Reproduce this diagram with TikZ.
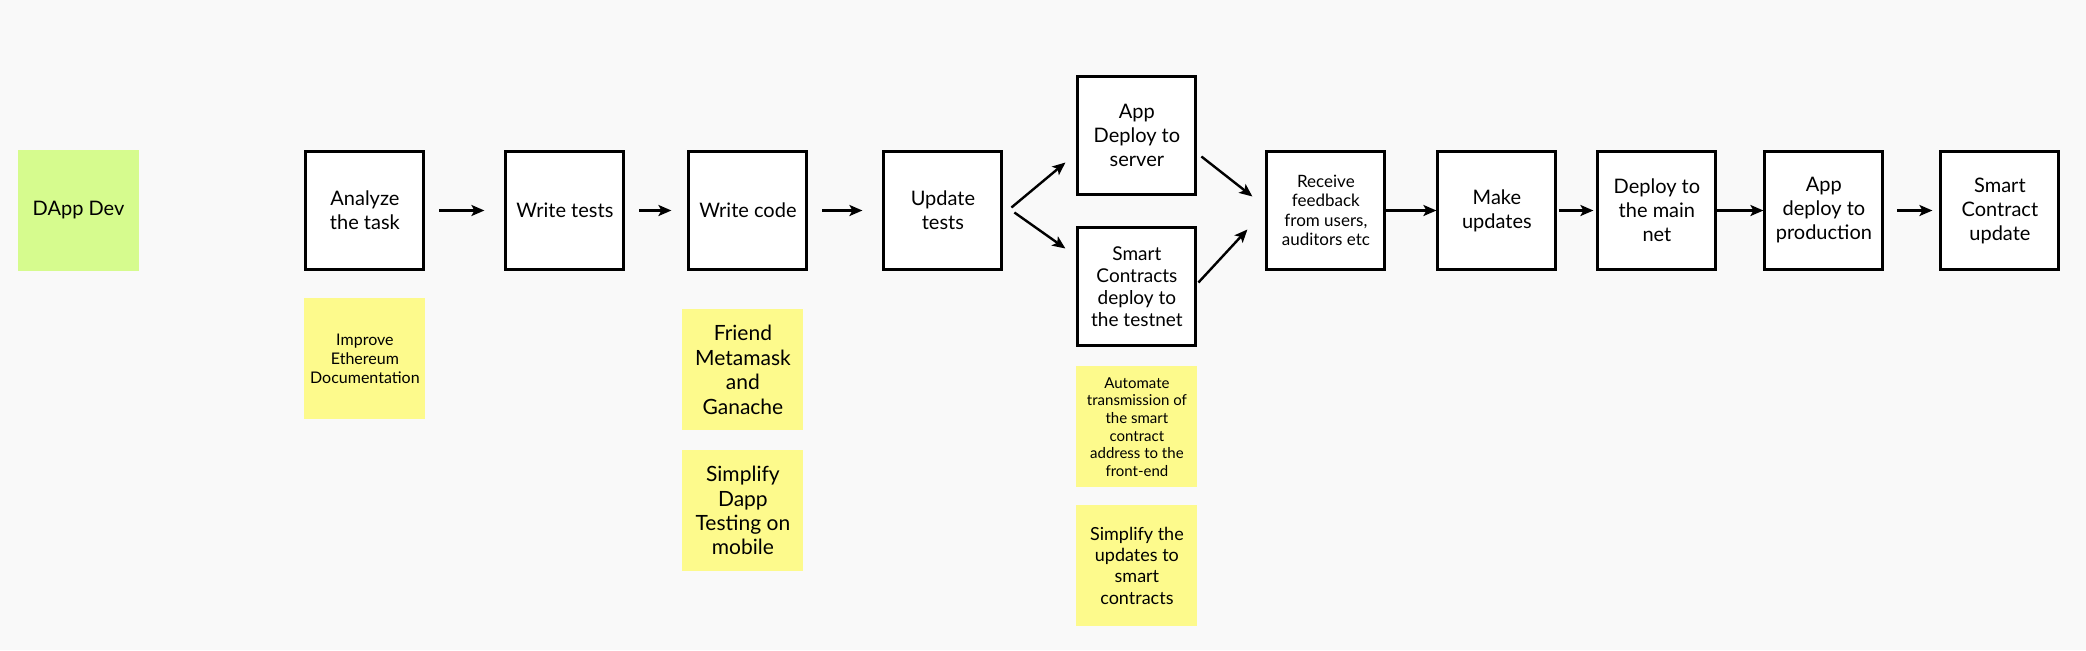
\documentclass[tikz,border=0pt]{standalone}
\usepackage{fontspec}
\setmainfont{Lato}
\usepackage{tikz}
\usetikzlibrary{arrows.meta}
\usetikzlibrary{positioning}
\usetikzlibrary{calc}
\definecolor{bgcol}{RGB}{249,249,249}
\definecolor{stickyyellow}{RGB}{253,250,140}
\definecolor{stickygreen}{RGB}{214,251,142}
\tikzstyle{task}=[draw,fill=white,line width=1.5pt,minimum size=59pt,inner sep=1pt,align=center,font=\fontsize{10}{12}\selectfont]
\tikzstyle{sticky}=[fill=stickyyellow,minimum size=60.5pt,inner sep=1pt,align=center]
\tikzstyle{flow}=[line width=1.2pt,-{Stealth[length=6.5pt,width=5.5pt,inset=1.5pt]}]

\begin{document}
\begin{tikzpicture}[x=0.5pt,y=-0.5pt]
\fill[bgcol] (0,0) rectangle (2086,650);
\useasboundingbox (0,0) rectangle (2086,650);

\node [sticky,fill=stickygreen,font=\fontsize{10}{12}\selectfont] (dapp) at (78.5,210.5) {DApp Dev};

\node [task,right=82.5pt of dapp] (analyze) {Analyze\\the task};
\node [task,right=39.5pt of analyze] (tests) {Write tests};
\node [task,right=31pt of tests] (code) {Write code};
\node [task,right=37pt of code] (update) {Update\\tests};
\node [task,right=36.5pt of update,yshift=37.5pt] (server) {App\\Deploy to\\server};
\node [task,below=15pt of server,font=\fontsize{9.5}{11}\selectfont] (testnet) {Smart\\Contracts\\deploy to\\the testnet};
\coordinate (mid) at (server.east |- update);
\node [task,right=34pt of mid,font=\fontsize{8.5}{9.7}\selectfont] (feedback) {Receive\\feedback\\from users,\\auditors etc};
\node [task,right=25pt of feedback] (updates) {Make\\updates};
\node [task,right=19.5pt of updates] (mainnet) {Deploy to\\the main\\net};
\node [task,right=23pt of mainnet] (prod) {App\\deploy to\\production};
\node [task,right=27.5pt of prod] (scupdate) {Smart\\Contract\\update};

\node [sticky,below=13.5pt of analyze,font=\fontsize{8}{9.5}\selectfont] (docs) {Improve\\Ethereum\\Documentation};
\node [sticky,below=19pt of code,xshift=-2.5pt,font=\fontsize{10.5}{12.3}\selectfont] (friend) {Friend\\Metamask\\and\\Ganache};
\node [sticky,below=9.5pt of friend,font=\fontsize{10.5}{12.2}\selectfont] (mobile) {Simplify\\Dapp\\Testing on\\mobile};
\node [sticky,below=9.5pt of testnet,font=\fontsize{7.5}{8.8}\selectfont] (address) {Automate\\transmission of\\the smart\\contract\\address to the\\front-end};
\node [sticky,below=8.5pt of address,font=\fontsize{9}{10.7}\selectfont] (simplify) {Simplify the\\updates to\\smart\\contracts};

\draw [flow,shorten <=7pt,shorten >=10pt] (analyze.east) -- (tests.west);
\draw [flow,shorten <=7pt,shorten >=8pt] (tests.east) -- (code.west);
\draw [flow,shorten <=7pt,shorten >=10pt] (code.east) -- (update.west);
\draw [flow] ($(update.east)+(8,-3)$) -- ($(server.west)+(-11,27)$);
\draw [flow] ($(update.east)+(11,2)$) -- ($(testnet.west)+(-11,-38)$);
\draw [flow] ($(server.east)+(4,21)$) -- ($(feedback.west)+(-13,-14)$);
\draw [flow] ($(testnet.east)+(1,-4)$) -- ($(feedback.west)+(-18,19)$);
\draw [flow] (feedback.east) -- (updates.west);
\draw [flow,shorten <=1pt,shorten >=1.5pt] (updates.east) -- (mainnet.west);
\draw [flow] (mainnet.east) -- (prod.west);
\draw [flow,shorten <=6.5pt,shorten >=3.5pt] (prod.east) -- (scupdate.west);
\end{tikzpicture}
\end{document}
